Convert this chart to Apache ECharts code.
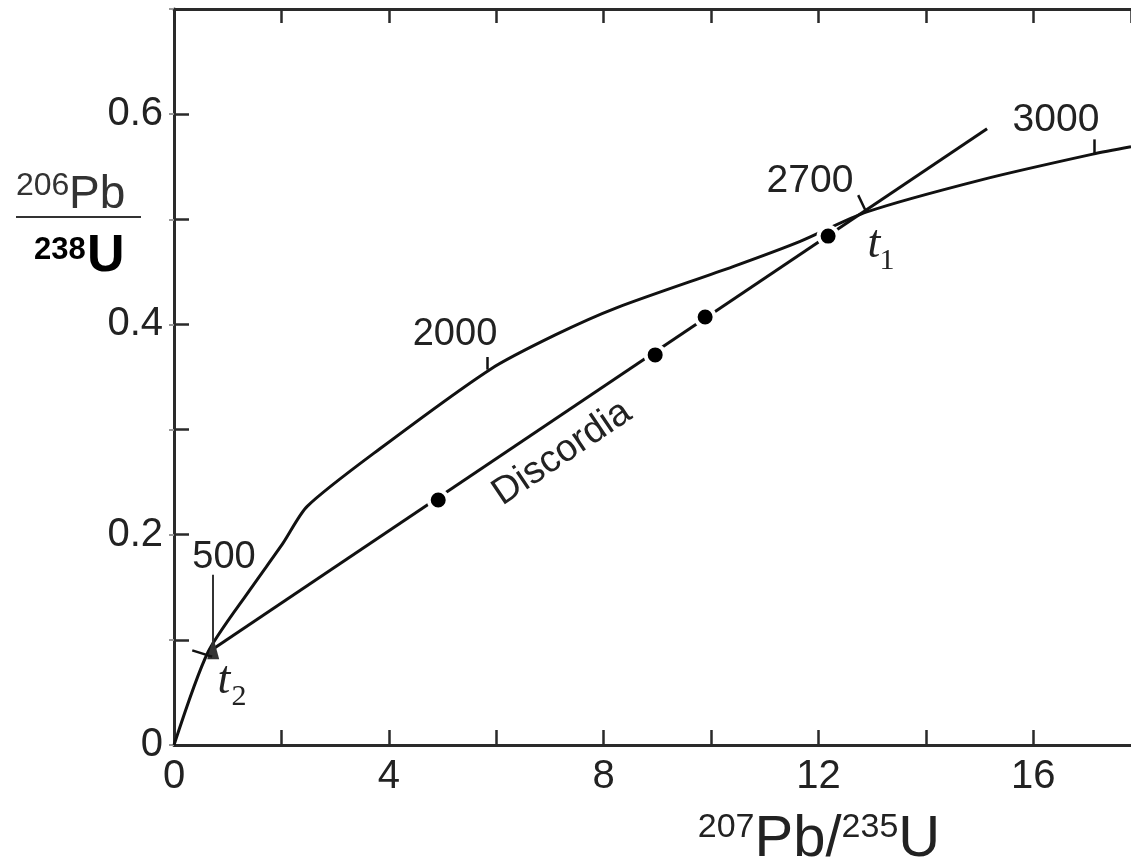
<!DOCTYPE html>
<html>
<head>
<meta charset="utf-8">
<script src="https://cdn.jsdelivr.net/npm/echarts@6.0.0/dist/echarts.min.js"></script>
<style>
html,body{margin:0;padding:0;background:#fff;}
#chart{width:1131px;height:864px;}
</style>
</head>
<body>
<div id="chart"></div>
<script>
// ---- data ----
const concordiaX = [0, 0.63, 1.42, 2.03, 2.48, 3.84, 5.88, 7.10, 8.25, 10.41, 11.66, 12.90, 15.07, 17.11, 17.82];
const concordiaY = [0, 0.088, 0.148, 0.192, 0.227, 0.282, 0.357, 0.390, 0.416, 0.455, 0.479, 0.507, 0.538, 0.562, 0.569];
const discordiaX = [0.63, 15.14];
const discordiaY = [0.088, 0.586];
const sampleX = [4.92, 8.96, 9.89, 12.18];
const sampleY = [0.233, 0.371, 0.407, 0.484];
const ageLabels = ['500', '2000', '2700', '3000'];
// age tick marks on the concordia (start / end points in data units)
const ageTickStartX = [0.73, 5.84, 12.74, 17.14];
const ageTickStartY = [0.162, 0.369, 0.523, 0.576];
const ageTickEndX   = [0.73, 5.84, 12.87, 17.14];
const ageTickEndY   = [0.092, 0.357, 0.509, 0.562];
const t2TickX = [0.34, 0.71];
const t2TickY = [0.090, 0.084];
const xTickLabels = [0, 4, 8, 12, 16];
const yTickLabels = [0, 0.2, 0.4, 0.6];
const xMax = 17.82;

const zip = (xs, ys) => xs.map((x, i) => [x, ys[i]]);

const axisColor = '#2a2a2a';
const ink = '#111';
const txt = '#222';
const sans = '"Liberation Sans", Arial, sans-serif';
const serif = '"Liberation Serif", "DejaVu Serif", serif';

const ageMarkLines = ageTickStartX.map((x, i) => {
  const isArrow = i === 0;
  return [
    { coord: [x, ageTickStartY[i]], symbol: 'none', lineStyle: isArrow ? { color: '#333', width: 2 } : undefined },
    { coord: [ageTickEndX[i], ageTickEndY[i]], symbol: isArrow ? 'triangle' : 'none', symbolSize: isArrow ? [12, 22] : 0, symbolRotate: 0 }
  ];
});
ageMarkLines.push([
  { coord: [t2TickX[0], t2TickY[0]], symbol: 'none' },
  { coord: [t2TickX[1], t2TickY[1]], symbol: 'none' }
]);

const isLabelled = (v, list) => list.find(t => Math.abs(t - v) < 1e-6);

const chart = echarts.init(document.getElementById('chart'), null, { renderer: 'canvas' });

const option = {
  animation: false,
  backgroundColor: '#fff',
  grid: { left: 174, right: 0, top: 9, bottom: 119, containLabel: false },
  xAxis: [
    {
      type: 'value', min: 0, max: xMax, interval: 2, position: 'bottom',
      axisLine: { show: true, onZero: false, lineStyle: { color: axisColor, width: 3 } },
      axisTick: { show: true, inside: true, length: 15, lineStyle: { color: axisColor, width: 2.5 } },
      axisLabel: {
        show: true, margin: 12, fontSize: 40, color: txt, fontFamily: sans,
        showMaxLabel: false,
        formatter: v => { const h = isLabelled(v, xTickLabels); return h === undefined ? '' : String(h); }
      },
      splitLine: { show: false }
    },
    {
      type: 'value', min: 0, max: xMax, interval: 2, position: 'top',
      axisLine: { show: true, onZero: false, lineStyle: { color: axisColor, width: 3 } },
      axisTick: { show: true, inside: true, length: 14, lineStyle: { color: axisColor, width: 2.5 } },
      axisLabel: { show: false },
      splitLine: { show: false }
    }
  ],
  yAxis: [
    {
      type: 'value', min: 0, max: 0.7, interval: 0.1, position: 'left',
      axisLine: { show: true, onZero: false, lineStyle: { color: axisColor, width: 3 } },
      axisTick: { show: true, inside: true, length: 15, lineStyle: { color: axisColor, width: 2.5 } },
      axisLabel: {
        show: true, margin: 11, fontSize: 40, color: txt, fontFamily: sans,
        formatter: v => { const h = isLabelled(v, yTickLabels); return h === undefined ? '' : String(h); }
      },
      splitLine: { show: false }
    },
    {
      type: 'value', min: 0, max: 0.7, interval: 0.1, position: 'right',
      axisLine: { show: false },
      axisTick: { show: true, inside: true, length: 5, lineStyle: { color: '#999', width: 2 } },
      axisLabel: { show: false },
      splitLine: { show: false }
    }
  ],
  series: [
    {
      name: 'Concordia', type: 'line', xAxisIndex: 0, yAxisIndex: 0,
      data: zip(concordiaX, concordiaY),
      smooth: 0.25, symbol: 'none',
      lineStyle: { color: ink, width: 3 },
      z: 3,
      markLine: {
        silent: true, animation: false,
        symbol: 'none',
        label: { show: false },
        lineStyle: { color: ink, width: 2.5, type: 'solid' },
        emphasis: { disabled: true },
        data: ageMarkLines
      }
    },
    {
      name: 'Discordia', type: 'line', xAxisIndex: 0, yAxisIndex: 0,
      data: zip(discordiaX, discordiaY),
      symbol: 'none',
      lineStyle: { color: ink, width: 3 },
      z: 3
    },
    {
      name: 'Samples', type: 'scatter', xAxisIndex: 0, yAxisIndex: 0,
      data: zip(sampleX, sampleY),
      symbol: 'circle', symbolSize: 19,
      itemStyle: { color: '#000', opacity: 1, borderColor: '#fff', borderWidth: 4 },
      z: 5
    }
  ],
  graphic: [
    // y-axis title: 206Pb / 238U
    { type: 'text', x: 16, y: 186, style: { text: '206', fontSize: 32, fontFamily: sans, fill: '#333', align: 'left', verticalAlign: 'middle', textAlign: 'left', textVerticalAlign: 'middle' } },
    { type: 'text', x: 69, y: 195, style: { text: 'Pb', fontSize: 46, fontFamily: sans, fill: '#333', align: 'left', verticalAlign: 'middle', textAlign: 'left', textVerticalAlign: 'middle' } },
    { type: 'line', shape: { x1: 16, y1: 217, x2: 141, y2: 217 }, style: { stroke: '#333', lineWidth: 2 } },
    { type: 'text', x: 34, y: 250, style: { text: '238', fontSize: 31, fontWeight: 'bold', fontFamily: sans, fill: '#000', align: 'left', verticalAlign: 'middle', textAlign: 'left', textVerticalAlign: 'middle' } },
    { type: 'text', x: 87, y: 257, style: { text: 'U', fontSize: 52, fontWeight: 'bold', fontFamily: sans, fill: '#000', align: 'left', verticalAlign: 'middle', textAlign: 'left', textVerticalAlign: 'middle' } },
    // x-axis title: 207Pb/235U
    { type: 'text', x: 819, y: 840, style: {
        text: '{s|207}{m|Pb/}{s|235}{m|U}', align: 'center', verticalAlign: 'middle', textAlign: 'center', textVerticalAlign: 'middle', fill: txt,
        rich: {
          s: { fontSize: 34, fontFamily: sans, fill: txt, verticalAlign: 'top', lineHeight: 58 },
          m: { fontSize: 58, fontFamily: sans, fill: txt, lineHeight: 58 }
        }
      } },
    // age labels
    { type: 'text', x: 224, y: 558, style: { text: ageLabels[0], fontSize: 38, fontFamily: sans, fill: txt, align: 'center', verticalAlign: 'middle', textAlign: 'center', textVerticalAlign: 'middle' } },
    { type: 'text', x: 455, y: 335, style: { text: ageLabels[1], fontSize: 38, fontFamily: sans, fill: txt, align: 'center', verticalAlign: 'middle', textAlign: 'center', textVerticalAlign: 'middle' } },
    { type: 'text', x: 810, y: 181, style: { text: ageLabels[2], fontSize: 39, fontFamily: sans, fill: txt, align: 'center', verticalAlign: 'middle', textAlign: 'center', textVerticalAlign: 'middle' } },
    { type: 'text', x: 1056, y: 120, style: { text: ageLabels[3], fontSize: 39, fontFamily: sans, fill: txt, align: 'center', verticalAlign: 'middle', textAlign: 'center', textVerticalAlign: 'middle' } },
    // Discordia label
    { type: 'text', x: 562, y: 453, rotation: 34 * Math.PI / 180, style: { text: 'Discordia', fontSize: 38, fontFamily: sans, fill: txt, align: 'center', verticalAlign: 'middle', textAlign: 'center', textVerticalAlign: 'middle' } },
    // t1 and t2
    { type: 'text', x: 874, y: 245, style: { text: 't', fontSize: 46, fontStyle: 'italic', fontFamily: serif, fill: txt, align: 'center', verticalAlign: 'middle', textAlign: 'center', textVerticalAlign: 'middle' } },
    { type: 'text', x: 887, y: 261, style: { text: '1', fontSize: 30, fontFamily: serif, fill: txt, align: 'center', verticalAlign: 'middle', textAlign: 'center', textVerticalAlign: 'middle' } },
    { type: 'text', x: 224, y: 681, style: { text: 't', fontSize: 46, fontStyle: 'italic', fontFamily: serif, fill: txt, align: 'center', verticalAlign: 'middle', textAlign: 'center', textVerticalAlign: 'middle' } },
    { type: 'text', x: 239, y: 697, style: { text: '2', fontSize: 30, fontFamily: serif, fill: txt, align: 'center', verticalAlign: 'middle', textAlign: 'center', textVerticalAlign: 'middle' } }
  ]
};
chart.setOption(option);
</script>
</body>
</html>
